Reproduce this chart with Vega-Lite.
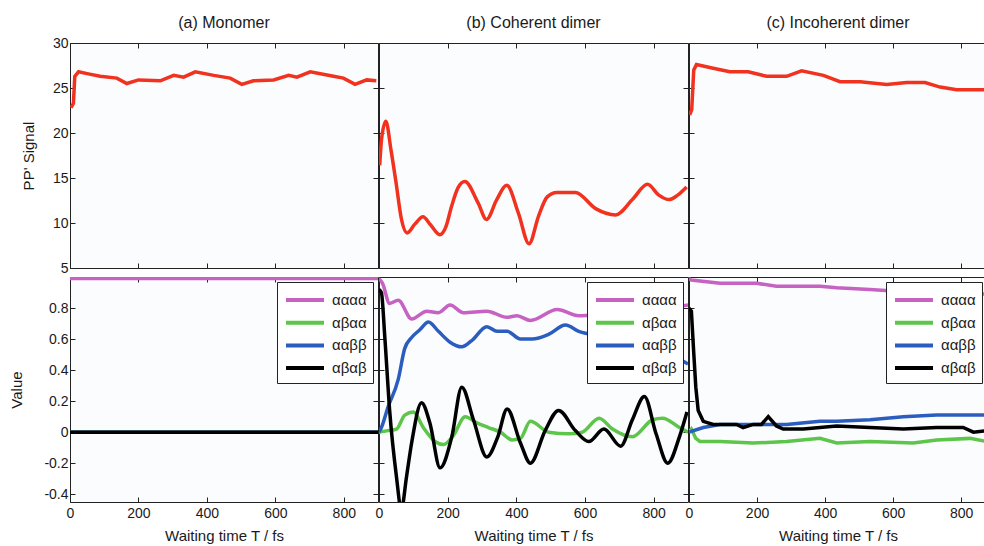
{
"$schema": "https://vega.github.io/schema/vega-lite/v6.json",
"padding": {"left": 9, "top": 14, "right": 0, "bottom": 0},
"background": "#ffffff",
"datasets": {
"top_a": [{"T":3,"v":22.8},{"T":10,"v":23.3},{"T":14,"v":26.3},{"T":25,"v":26.8},{"T":50,"v":26.6},{"T":88,"v":26.3},{"T":137,"v":26.1},{"T":166,"v":25.5},{"T":200,"v":25.9},{"T":264,"v":25.8},{"T":303,"v":26.4},{"T":332,"v":26.2},{"T":366,"v":26.8},{"T":420,"v":26.4},{"T":468,"v":26.1},{"T":502,"v":25.4},{"T":536,"v":25.8},{"T":595,"v":25.9},{"T":639,"v":26.4},{"T":663,"v":26.2},{"T":702,"v":26.8},{"T":770,"v":26.3},{"T":799,"v":26.1},{"T":833,"v":25.4},{"T":867,"v":25.9},{"T":895,"v":25.8}],
"top_b": [{"T":2,"v":16.4},{"T":8,"v":19.5},{"T":20,"v":21.3},{"T":35,"v":18.1},{"T":50,"v":14.4},{"T":65,"v":10.5},{"T":82,"v":8.9},{"T":105,"v":9.9},{"T":128,"v":10.7},{"T":150,"v":9.8},{"T":177,"v":8.7},{"T":195,"v":9.6},{"T":211,"v":11.8},{"T":230,"v":13.9},{"T":250,"v":14.6},{"T":289,"v":12.2},{"T":313,"v":10.4},{"T":343,"v":12.6},{"T":372,"v":14.2},{"T":406,"v":11.1},{"T":437,"v":7.7},{"T":465,"v":10.8},{"T":490,"v":12.9},{"T":518,"v":13.4},{"T":572,"v":13.4},{"T":631,"v":11.6},{"T":689,"v":10.9},{"T":738,"v":12.6},{"T":782,"v":14.3},{"T":815,"v":13.1},{"T":845,"v":12.6},{"T":870,"v":13.1},{"T":896,"v":14.0}],
"top_c": [{"T":2,"v":22.0},{"T":8,"v":22.6},{"T":14,"v":27.0},{"T":22,"v":27.6},{"T":71,"v":27.2},{"T":120,"v":26.8},{"T":174,"v":26.8},{"T":228,"v":26.3},{"T":287,"v":26.3},{"T":331,"v":26.9},{"T":395,"v":26.4},{"T":444,"v":25.7},{"T":503,"v":25.7},{"T":581,"v":25.4},{"T":640,"v":25.6},{"T":694,"v":25.6},{"T":738,"v":25.1},{"T":787,"v":24.8},{"T":876,"v":24.8}],
"bot_a": [{"T":0,"s":"αααα","v":0.99},{"T":900,"s":"αααα","v":0.99},{"T":0,"s":"αβαα","v":0},{"T":900,"s":"αβαα","v":0},{"T":0,"s":"ααββ","v":0},{"T":900,"s":"ααββ","v":0},{"T":0,"s":"αβαβ","v":0},{"T":900,"s":"αβαβ","v":0}],
"bot_b": [
{"T":0,"s":"αααα","v":0.99},{"T":10,"s":"αααα","v":0.96},{"T":31,"s":"αααα","v":0.83},{"T":56,"s":"αααα","v":0.85},{"T":95,"s":"αααα","v":0.73},{"T":139,"s":"αααα","v":0.78},{"T":173,"s":"αααα","v":0.77},{"T":207,"s":"αααα","v":0.82},{"T":246,"s":"αααα","v":0.77},{"T":314,"s":"αααα","v":0.78},{"T":373,"s":"αααα","v":0.74},{"T":402,"s":"αααα","v":0.75},{"T":441,"s":"αααα","v":0.72},{"T":519,"s":"αααα","v":0.79},{"T":582,"s":"αααα","v":0.75},{"T":650,"s":"αααα","v":0.76},{"T":750,"s":"αααα","v":0.78},{"T":850,"s":"αααα","v":0.8},{"T":900,"s":"αααα","v":0.82},
{"T":0,"s":"αβαα","v":0},{"T":26,"s":"αβαα","v":0.01},{"T":51,"s":"αβαα","v":0.02},{"T":75,"s":"αβαα","v":0.11},{"T":100,"s":"αβαα","v":0.13},{"T":129,"s":"αβαα","v":0.03},{"T":163,"s":"αβαα","v":-0.06},{"T":188,"s":"αβαα","v":-0.08},{"T":217,"s":"αβαα","v":-0.02},{"T":251,"s":"αβαα","v":0.10},{"T":285,"s":"αβαα","v":0.06},{"T":319,"s":"αβαα","v":0.03},{"T":354,"s":"αβαα","v":0.0},{"T":388,"s":"αβαα","v":-0.05},{"T":412,"s":"αβαα","v":-0.04},{"T":441,"s":"αβαα","v":0.07},{"T":494,"s":"αβαα","v":0.0},{"T":553,"s":"αβαα","v":-0.01},{"T":592,"s":"αβαα","v":0.0},{"T":641,"s":"αβαα","v":0.09},{"T":680,"s":"αβαα","v":0.02},{"T":738,"s":"αβαα","v":-0.03},{"T":797,"s":"αβαα","v":0.08},{"T":826,"s":"αβαα","v":0.09},{"T":875,"s":"αβαα","v":0.03},{"T":900,"s":"αβαα","v":0.0},
{"T":0,"s":"ααββ","v":0},{"T":7,"s":"ααββ","v":0.03},{"T":26,"s":"ααββ","v":0.16},{"T":56,"s":"ααββ","v":0.34},{"T":75,"s":"ααββ","v":0.54},{"T":95,"s":"ααββ","v":0.61},{"T":119,"s":"ααββ","v":0.66},{"T":144,"s":"ααββ","v":0.71},{"T":173,"s":"ααββ","v":0.65},{"T":207,"s":"ααββ","v":0.58},{"T":241,"s":"ααββ","v":0.55},{"T":270,"s":"ααββ","v":0.59},{"T":314,"s":"ααββ","v":0.68},{"T":344,"s":"ααββ","v":0.65},{"T":373,"s":"ααββ","v":0.65},{"T":412,"s":"ααββ","v":0.60},{"T":446,"s":"ααββ","v":0.60},{"T":494,"s":"ααββ","v":0.63},{"T":543,"s":"ααββ","v":0.69},{"T":582,"s":"ααββ","v":0.65},{"T":650,"s":"ααββ","v":0.62},{"T":750,"s":"ααββ","v":0.58},{"T":850,"s":"ααββ","v":0.5},{"T":900,"s":"ααββ","v":0.44},
{"T":0,"s":"αβαβ","v":0.92},{"T":7,"s":"αβαβ","v":0.9},{"T":17,"s":"αβαβ","v":0.61},{"T":31,"s":"αβαβ","v":0.14},{"T":51,"s":"αβαβ","v":-0.29},{"T":65,"s":"αβαβ","v":-0.5},{"T":80,"s":"αβαβ","v":-0.29},{"T":95,"s":"αβαβ","v":-0.07},{"T":124,"s":"αβαβ","v":0.19},{"T":148,"s":"αβαβ","v":0.06},{"T":178,"s":"αβαβ","v":-0.23},{"T":212,"s":"αβαβ","v":-0.03},{"T":241,"s":"αβαβ","v":0.29},{"T":275,"s":"αβαβ","v":0.08},{"T":314,"s":"αβαβ","v":-0.16},{"T":346,"s":"αβαβ","v":-0.03},{"T":373,"s":"αβαβ","v":0.15},{"T":412,"s":"αβαβ","v":-0.07},{"T":441,"s":"αβαβ","v":-0.20},{"T":484,"s":"αβαβ","v":0.01},{"T":523,"s":"αβαβ","v":0.14},{"T":572,"s":"αβαβ","v":0.01},{"T":611,"s":"αβαβ","v":-0.06},{"T":655,"s":"αβαβ","v":0.02},{"T":704,"s":"αβαβ","v":-0.09},{"T":738,"s":"αβαβ","v":0.08},{"T":773,"s":"αβαβ","v":0.23},{"T":807,"s":"αβαβ","v":-0.01},{"T":841,"s":"αβαβ","v":-0.20},{"T":875,"s":"αβαβ","v":-0.03},{"T":897,"s":"αβαβ","v":0.13}],
"bot_c": [
{"T":0,"s":"αααα","v":0.99},{"T":7,"s":"αααα","v":0.98},{"T":91,"s":"αααα","v":0.96},{"T":198,"s":"αααα","v":0.96},{"T":257,"s":"αααα","v":0.94},{"T":385,"s":"αααα","v":0.94},{"T":434,"s":"αααα","v":0.93},{"T":532,"s":"αααα","v":0.92},{"T":600,"s":"αααα","v":0.91},{"T":700,"s":"αααα","v":0.9},{"T":876,"s":"αααα","v":0.89},
{"T":0,"s":"αβαα","v":0},{"T":7,"s":"αβαα","v":0.02},{"T":20,"s":"αβαα","v":-0.04},{"T":32,"s":"αβαα","v":-0.06},{"T":91,"s":"αβαα","v":-0.06},{"T":189,"s":"αβαα","v":-0.07},{"T":287,"s":"αβαα","v":-0.06},{"T":385,"s":"αβαα","v":-0.04},{"T":434,"s":"αβαα","v":-0.07},{"T":532,"s":"αβαα","v":-0.06},{"T":659,"s":"αβαα","v":-0.07},{"T":728,"s":"αβαα","v":-0.05},{"T":826,"s":"αβαα","v":-0.04},{"T":876,"s":"αβαα","v":-0.06},
{"T":0,"s":"ααββ","v":0},{"T":42,"s":"ααββ","v":0.03},{"T":91,"s":"ααββ","v":0.05},{"T":189,"s":"ααββ","v":0.05},{"T":287,"s":"ααββ","v":0.05},{"T":385,"s":"ααββ","v":0.07},{"T":434,"s":"ααββ","v":0.07},{"T":532,"s":"ααββ","v":0.08},{"T":630,"s":"ααββ","v":0.1},{"T":728,"s":"ααββ","v":0.11},{"T":876,"s":"ααββ","v":0.11},
{"T":0,"s":"αβαβ","v":0.8},{"T":7,"s":"αβαβ","v":0.78},{"T":14,"s":"αβαβ","v":0.51},{"T":20,"s":"αβαβ","v":0.29},{"T":27,"s":"αβαβ","v":0.14},{"T":42,"s":"αβαβ","v":0.07},{"T":71,"s":"αβαβ","v":0.05},{"T":140,"s":"αβαβ","v":0.05},{"T":159,"s":"αβαβ","v":0.03},{"T":189,"s":"αβαβ","v":0.05},{"T":213,"s":"αβαβ","v":0.05},{"T":233,"s":"αβαβ","v":0.1},{"T":257,"s":"αβαβ","v":0.04},{"T":277,"s":"αβαβ","v":0.02},{"T":336,"s":"αβαβ","v":0.02},{"T":434,"s":"αβαβ","v":0.04},{"T":532,"s":"αβαβ","v":0.03},{"T":630,"s":"αβαβ","v":0.02},{"T":728,"s":"αβαβ","v":0.03},{"T":806,"s":"αβαβ","v":0.03},{"T":836,"s":"αβαβ","v":0.0},{"T":876,"s":"αβαβ","v":0.01}]
},
"hconcat": [
{"vconcat": [
 {"width": 308, "height": 225, "title": {"text": "(a) Monomer", "offset": 5}, "data": {"name": "top_a"},
  "layer": [
   {"mark": {"type": "line", "color": "#f0321e", "strokeWidth": 3.5, "clip": true},
    "encoding": {
     "x": {"field": "T", "type": "quantitative", "scale": {"domain": [0, 900], "nice": false, "zero": false}, "axis": {"values": [0,200,400,600,800], "labels": false, "title": null}},
     "y": {"field": "v", "type": "quantitative", "scale": {"domain": [5, 30], "nice": false, "zero": false}, "axis": {"values": [5,10,15,20,25,30], "title": "PP' Signal", "labelPadding": 7, "titlePadding": 16}}}},
   {"mark": {"type": "line", "opacity": 0},
    "encoding": {
     "x": {"field": "T", "type": "quantitative", "scale": {"domain": [0, 900], "nice": false, "zero": false}, "axis": {"orient": "top", "values": [0,200,400,600,800], "labels": false, "title": null}},
     "y": {"field": "v", "type": "quantitative", "scale": {"domain": [5, 30], "nice": false, "zero": false}, "axis": {"orient": "right", "values": [5,10,15,20,25,30], "labels": false, "title": null}}}}
  ],
  "resolve": {"axis": {"x": "independent", "y": "independent"}}},
 {"width": 308, "height": 225, "data": {"name": "bot_a"},
  "layer": [
   {"mark": {"type": "line", "strokeWidth": 3.5, "clip": true},
    "encoding": {
     "x": {"field": "T", "type": "quantitative", "scale": {"domain": [0, 900], "nice": false, "zero": false}, "axis": {"values": [0,200,400,600,800], "title": "Waiting time T / fs", "labelPadding": 9, "titlePadding": 8}},
     "y": {"field": "v", "type": "quantitative", "scale": {"domain": [-0.45, 1], "nice": false, "zero": false}, "axis": {"values": [-0.4,-0.2,0,0.2,0.4,0.6,0.8], "title": "Value", "labelPadding": 7, "titlePadding": 19, "labelExpr": "datum.value < 0 ? '-' + format(-datum.value, '~g') : format(datum.value, '~g')"}},
     "color": {"field": "s", "type": "nominal", "scale": {"domain": ["αααα","αβαα","ααββ","αβαβ"], "range": ["#c562c2","#5cc54a","#2b5dbf","#000000"]}, "legend": {"title": null}}}},
   {"mark": {"type": "line", "opacity": 0},
    "encoding": {
     "x": {"field": "T", "type": "quantitative", "scale": {"domain": [0, 900], "nice": false, "zero": false}, "axis": {"orient": "top", "values": [0,200,400,600,800], "labels": false, "title": null}},
     "y": {"field": "v", "type": "quantitative", "scale": {"domain": [-0.45, 1], "nice": false, "zero": false}, "axis": {"orient": "right", "values": [-0.4,-0.2,0,0.2,0.4,0.6,0.8], "labels": false, "title": null}}}}
  ],
  "resolve": {"axis": {"x": "independent", "y": "independent"}}}
], "spacing": 9, "bounds": "flush", "resolve": {"legend": {"color": "independent"}}},
{"vconcat": [
 {"width": 309, "height": 225, "title": "(b) Coherent dimer", "data": {"name": "top_b"},
  "layer": [
   {"mark": {"type": "line", "color": "#f0321e", "strokeWidth": 3.5, "clip": true, "interpolate": "monotone"},
    "encoding": {
     "x": {"field": "T", "type": "quantitative", "scale": {"domain": [0, 900], "nice": false, "zero": false}, "axis": {"values": [0,200,400,600,800], "labels": false, "title": null}},
     "y": {"field": "v", "type": "quantitative", "scale": {"domain": [5, 30], "nice": false, "zero": false}, "axis": {"values": [5,10,15,20,25,30], "labels": false, "title": null}}}},
   {"mark": {"type": "line", "opacity": 0},
    "encoding": {
     "x": {"field": "T", "type": "quantitative", "scale": {"domain": [0, 900], "nice": false, "zero": false}, "axis": {"orient": "top", "values": [0,200,400,600,800], "labels": false, "title": null}},
     "y": {"field": "v", "type": "quantitative", "scale": {"domain": [5, 30], "nice": false, "zero": false}, "axis": {"orient": "right", "values": [5,10,15,20,25,30], "labels": false, "title": null}}}}
  ],
  "resolve": {"axis": {"x": "independent", "y": "independent"}}},
 {"width": 309, "height": 225, "data": {"name": "bot_b"},
  "layer": [
   {"mark": {"type": "line", "strokeWidth": 3.5, "clip": true, "interpolate": "monotone"},
    "encoding": {
     "x": {"field": "T", "type": "quantitative", "scale": {"domain": [0, 900], "nice": false, "zero": false}, "axis": {"values": [0,200,400,600,800], "title": "Waiting time T / fs", "labelPadding": 9, "titlePadding": 8}},
     "y": {"field": "v", "type": "quantitative", "scale": {"domain": [-0.45, 1], "nice": false, "zero": false}, "axis": {"values": [-0.4,-0.2,0,0.2,0.4,0.6,0.8], "labels": false, "title": null}},
     "color": {"field": "s", "type": "nominal", "scale": {"domain": ["αααα","αβαα","ααββ","αβαβ"], "range": ["#c562c2","#5cc54a","#2b5dbf","#000000"]}, "legend": {"title": null}}}},
   {"mark": {"type": "line", "opacity": 0},
    "encoding": {
     "x": {"field": "T", "type": "quantitative", "scale": {"domain": [0, 900], "nice": false, "zero": false}, "axis": {"orient": "top", "values": [0,200,400,600,800], "labels": false, "title": null}},
     "y": {"field": "v", "type": "quantitative", "scale": {"domain": [-0.45, 1], "nice": false, "zero": false}, "axis": {"orient": "right", "values": [-0.4,-0.2,0,0.2,0.4,0.6,0.8], "labels": false, "title": null}}}}
  ],
  "resolve": {"axis": {"x": "independent", "y": "independent"}}}
], "spacing": 9, "bounds": "flush", "resolve": {"legend": {"color": "independent"}}},
{"vconcat": [
 {"width": 298, "height": 225, "title": "(c) Incoherent dimer", "data": {"name": "top_c"},
  "layer": [
   {"mark": {"type": "line", "color": "#f0321e", "strokeWidth": 3.5, "clip": true},
    "encoding": {
     "x": {"field": "T", "type": "quantitative", "scale": {"domain": [0, 876], "nice": false, "zero": false}, "axis": {"values": [0,200,400,600,800], "labels": false, "title": null}},
     "y": {"field": "v", "type": "quantitative", "scale": {"domain": [5, 30], "nice": false, "zero": false}, "axis": {"values": [5,10,15,20,25,30], "labels": false, "title": null}}}},
   {"mark": {"type": "line", "opacity": 0},
    "encoding": {
     "x": {"field": "T", "type": "quantitative", "scale": {"domain": [0, 876], "nice": false, "zero": false}, "axis": {"orient": "top", "values": [0,200,400,600,800], "labels": false, "title": null}}}}
  ],
  "resolve": {"axis": {"x": "independent", "y": "independent"}}},
 {"width": 298, "height": 225, "data": {"name": "bot_c"},
  "layer": [
   {"mark": {"type": "line", "strokeWidth": 3.5, "clip": true},
    "encoding": {
     "x": {"field": "T", "type": "quantitative", "scale": {"domain": [0, 876], "nice": false, "zero": false}, "axis": {"values": [0,200,400,600,800], "title": "Waiting time T / fs", "labelPadding": 9, "titlePadding": 8}},
     "y": {"field": "v", "type": "quantitative", "scale": {"domain": [-0.45, 1], "nice": false, "zero": false}, "axis": {"values": [-0.4,-0.2,0,0.2,0.4,0.6,0.8], "labels": false, "title": null}},
     "color": {"field": "s", "type": "nominal", "scale": {"domain": ["αααα","αβαα","ααββ","αβαβ"], "range": ["#c562c2","#5cc54a","#2b5dbf","#000000"]}, "legend": {"title": null}}}},
   {"mark": {"type": "line", "opacity": 0},
    "encoding": {
     "x": {"field": "T", "type": "quantitative", "scale": {"domain": [0, 876], "nice": false, "zero": false}, "axis": {"orient": "top", "values": [0,200,400,600,800], "labels": false, "title": null}}}}
  ],
  "resolve": {"axis": {"x": "independent", "y": "independent"}}}
], "spacing": 9, "bounds": "flush", "resolve": {"legend": {"color": "independent"}}}
],
"spacing": -6,
"resolve": {"legend": {"color": "independent"}},
"config": {
 "view": {"stroke": "#222222", "strokeWidth": 1, "fill": "#fbfcfe"},
 "axis": {"domain": false, "grid": false, "ticks": true, "tickSize": -5, "tickColor": "#222222", "labelFont": "Liberation Sans", "labelFontSize": 14, "labelColor": "#1a1a1a", "titleFont": "Liberation Sans", "titleFontSize": 15, "titleFontWeight": "normal", "titleColor": "#1a1a1a", "labelFlush": false, "labelOverlap": false, "labelPadding": 5, "titlePadding": 6},
 "title": {"font": "Liberation Sans", "fontSize": 16, "fontWeight": "normal", "color": "#1a1a1a", "offset": 12, "anchor": "middle"},
 "legend": {"orient": "top-right", "offset": 5, "fillColor": "#ffffff", "strokeColor": "#222222", "padding": 6, "symbolType": "M-1.9,0H1.9", "symbolSize": 400, "symbolStrokeWidth": 4, "labelFont": "Liberation Sans", "labelFontSize": 15, "labelColor": "#1a1a1a", "rowPadding": 2.7, "labelOffset": 15, "symbolOffset": 10}
}
}
